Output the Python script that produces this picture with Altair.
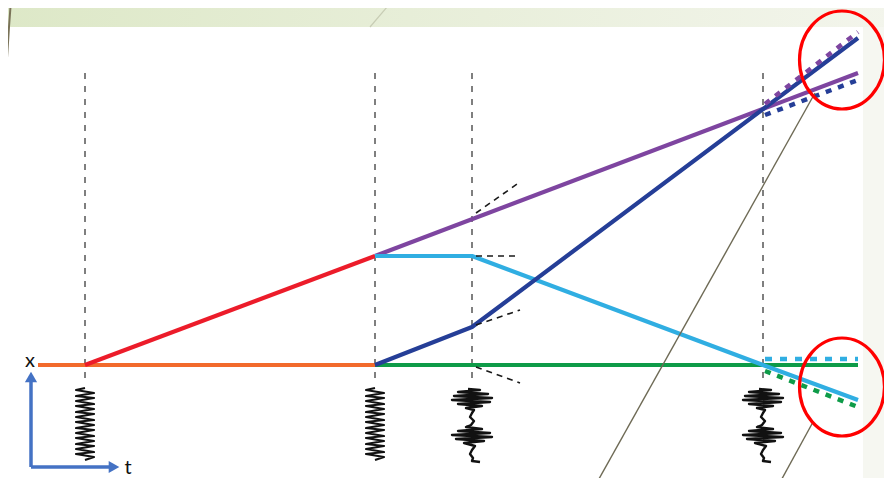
import altair as alt
import pandas as pd

# ---------------- diagram data (page-pixel coordinates) -------------
event_t = [85, 375, 472, 763]          # vertical dashed event lines
dash_top = [73, 73, 73, 73]
dash_bottom = [382, 382, 382, 382]

orange_px = [38, 375];            orange_py = [365, 365]
red_px = [85, 375];               red_py = [365, 256]
green_px = [375, 858];            green_py = [365, 365]
purple_px = [375, 858];           purple_py = [256, 73]
cyan_px = [375, 472, 763, 858];   cyan_py = [256, 256, 365, 400]
navy_px = [375, 472, 858];        navy_py = [365, 327, 38]

# coloured dotted continuations after the last event
purple_dot_px = [765, 858];  purple_dot_py = [104, 32]
navy_dot_px = [765, 858];    navy_dot_py = [115, 80]
cyan_dot_px = [765, 858];    cyan_dot_py = [359, 359]
green_dot_px = [765, 858];   green_dot_py = [371, 407]

# black dashed "would-have-continued" stubs at the 3rd event
stub_px = [[476, 520], [476, 520], [476, 520], [476, 520]]
stub_py = [[213, 182], [256, 256], [325, 310], [367, 383]]

# spring glyph (offsets around an event line)
spring_dx = [0, -9, 9, -9, 9, -9, 9, -9, 9, -9, 9, -9, 9, -9, 9, -9, 9, -9, 9, -9, 9,
             -9, 9, -9, 9, -9, 9, 0]
spring_py = [388, 390, 393, 396, 398, 401, 404, 406, 409, 412, 414, 417, 420, 422, 425,
             428, 430, 433, 436, 438, 441, 444, 446, 449, 452, 454, 457, 460]
spring_at = [85, 375]

# wave-packet glyph
packet_dx = [-4, 8, -14, 16, -18, 20, -20, 18, -14, 10, -6, 2, 0, -2, 2, -1,
             -6, 10, -14, 18, -20, 20, -16, 12, -8, 3, 0, -2, 1, 0, 8]
packet_py = [389, 390, 392, 394, 396, 398, 400, 402, 404, 406, 408, 410, 413, 417, 421, 425,
             427, 429, 431, 433, 435, 437, 439, 441, 443, 446, 450, 454, 458, 461, 462]
packet_at = [472, 763]

# axis arrows
axis_v_px = [31, 31];  axis_v_py = [467, 380]
axis_h_px = [31, 110]; axis_h_py = [467, 467]

# callout lines and highlight ellipses
callout1_px = [815, 595]; callout1_py = [93, 486]
callout2_px = [813, 778]; callout2_py = [422, 486]
ellipse_px = [842, 842];  ellipse_py = [60, 387]

labels = ["x", "t"]
label_px = [30, 128]
label_py = [361, 468]

# ---------------- helpers ---------------------------------------------------------------
X = alt.X("px:Q", scale=alt.Scale(domain=[8, 884], nice=False, zero=False), axis=None)
Y = alt.Y("py:Q", scale=alt.Scale(domain=[8, 478], reverse=True, nice=False, zero=False), axis=None)


def path_df(px, py):
    return pd.DataFrame({"px": px, "py": py, "i": list(range(len(px)))})


def line(px, py, color, width, dash=None, cap="butt", join="round"):
    kw = dict(color=color, strokeWidth=width, strokeCap=cap, strokeJoin=join, clip=True)
    if dash:
        kw["strokeDash"] = dash
    return alt.Chart(path_df(px, py)).mark_line(**kw).encode(x=X, y=Y, order="i:Q")


def rect(x1, x2, y1, y2, color):
    df = pd.DataFrame({"px": [x1], "px2": [x2], "py": [y1], "py2": [y2]})
    return alt.Chart(df).mark_rect(color=color, clip=True).encode(
        x=X, x2="px2:Q", y=Y, y2="py2:Q")


layers = []
grad = alt.LinearGradient(
    gradient="linear",
    stops=[alt.GradientStop(color="#dde8c7", offset=0),
           alt.GradientStop(color="#f3f5ec", offset=1)],
    x1=0, x2=1, y1=0, y2=0)
layers.append(rect(0, 892, 0, 27, grad))
layers.append(rect(5, 863, 27, 490, "#ffffff"))
layers.append(line([11, 9, 3, 0], [0, 27, 120, 486], "#7a7358", 2))
layers.append(line([393, 370], [0, 27], "#c7ccb4", 1.2))

# event lines
for t, a, b in zip(event_t, dash_top, dash_bottom):
    layers.append(line([t, t], [a, b], "#7f7f7f", 2, dash=[6, 7]))

# world lines
layers.append(line(orange_px, orange_py, "#f26a2c", 4.2))
layers.append(line(red_px, red_py, "#ec1c2a", 4.2))
layers.append(line(green_px, green_py, "#0e9b48", 4.2))
layers.append(line(purple_px, purple_py, "#7e45a0", 4.2))
layers.append(line(cyan_px, cyan_py, "#30aee2", 4.2))
layers.append(line(navy_px, navy_py, "#253e97", 4.2))

# dotted continuations
layers.append(line(purple_dot_px, purple_dot_py, "#7e45a0", 4.5, dash=[6, 7]))
layers.append(line(navy_dot_px, navy_dot_py, "#253e97", 4.5, dash=[6, 7]))
layers.append(line(cyan_dot_px, cyan_dot_py, "#30aee2", 4.5, dash=[7, 8]))
layers.append(line(green_dot_px, green_dot_py, "#0e9b48", 4.5, dash=[6, 7]))

# black dashed stubs
for sx, sy in zip(stub_px, stub_py):
    layers.append(line(sx, sy, "#1a1a1a", 1.6, dash=[6, 5]))

# springs and wave packets
for c in spring_at:
    layers.append(line([c + d for d in spring_dx], spring_py, "#111111", 2.2))
for c in packet_at:
    layers.append(line([c + d for d in packet_dx], packet_py, "#111111", 2.4))

# axis arrows
layers.append(line(axis_v_px, axis_v_py, "#4472c4", 3.5))
layers.append(line(axis_h_px, axis_h_py, "#4472c4", 3.5))
heads = pd.DataFrame({"px": [31, 114], "py": [377, 467]})
for i, shp in enumerate(["triangle-up", "triangle-right"]):
    layers.append(alt.Chart(heads.iloc[[i]]).mark_point(
        shape=shp, size=150, filled=True, color="#4472c4", opacity=1).encode(x=X, y=Y))

# labels
lab = pd.DataFrame({"px": label_px, "py": label_py, "txt": labels})
layers.append(alt.Chart(lab).mark_text(font="Lato", fontSize=20, color="#111111",
                                       baseline="middle", align="center").encode(
    x=X, y=Y, text="txt:N"))

# callout lines
layers.append(line(callout1_px, callout1_py, "#6e6a55", 1.4))
layers.append(line(callout2_px, callout2_py, "#6e6a55", 1.4))

# red highlight ellipses
ell_path = "M -0.867 0 A 0.867 1 0 1 0 0.867 0 A 0.867 1 0 1 0 -0.867 0 Z"
ell = pd.DataFrame({"px": ellipse_px, "py": ellipse_py})
layers.append(alt.Chart(ell).mark_point(
    shape=ell_path, size=9604, filled=False, stroke="#ff0000", strokeWidth=3.2,
    opacity=1).encode(x=X, y=Y))

chart = alt.layer(*layers).properties(
    width=876, height=470, padding=0, background="#f6f7f1",
    autosize=alt.AutoSizeParams(type="none")
).configure_view(stroke=None)

chart.save("out.html", embed_options={"renderer": "svg", "actions": False})
